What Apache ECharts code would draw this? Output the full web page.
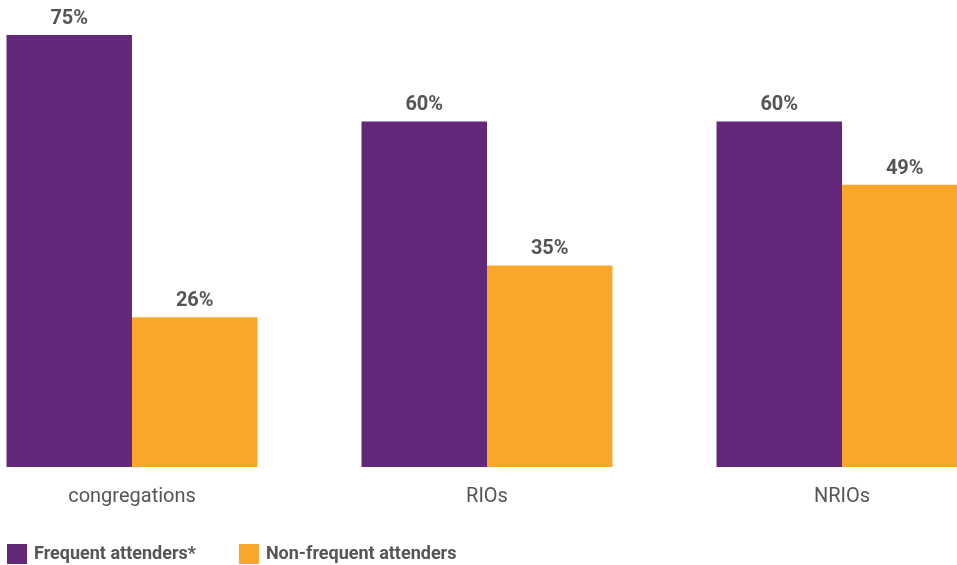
<!DOCTYPE html>
<html>
<head>
<meta charset="utf-8">
<script src="https://cdn.jsdelivr.net/npm/echarts@6/dist/echarts.min.js"></script>
<style>html,body{margin:0;padding:0;background:#fff}#c{width:957px;height:565px}</style>
</head>
<body>
<div id="c"></div>
<script>
const categories = ['congregations', 'RIOs', 'NRIOs'];
const frequent = [75, 60, 60];
const nonFrequent = [26, 35, 49];
const seriesNames = ['Frequent attenders*', 'Non-frequent attenders'];

const chart = echarts.init(document.getElementById('c'), null, {renderer: 'canvas'});
const labelStyle = {
  show: true, position: 'top', formatter: '{c}%', color: '#555555',
  fontFamily: 'Roboto', fontWeight: 'bold', fontSize: 20, distance: 6
};
chart.setOption({
  animation: false,
  grid: {left: -45.5, width: 1065, top: 35, bottom: 98, containLabel: false, outerBoundsMode: 'none'},
  legend: {
    left: 7, top: 544, itemWidth: 20, itemHeight: 20, itemGap: 43, icon: 'rect', padding: 0,
    textStyle: {color: '#555555', fontFamily: 'Roboto', fontWeight: 'bold', fontSize: 18, padding: [0, 0, 0, 2]},
    data: seriesNames
  },
  xAxis: {
    type: 'category', data: categories,
    axisLine: {show: false}, axisTick: {show: false},
    axisLabel: {color: '#555555', fontFamily: 'Roboto', fontSize: 20, margin: 20}
  },
  yAxis: {type: 'value', min: 0, max: 75, show: false, splitLine: {show: false}},
  series: [
    {name: seriesNames[0], type: 'bar', data: frequent, barGap: '0%', barCategoryGap: '29.3%',
     itemStyle: {color: '#63287A'}, label: labelStyle},
    {name: seriesNames[1], type: 'bar', data: nonFrequent,
     itemStyle: {color: '#F9A72B'}, label: labelStyle}
  ]
});
</script>
</body>
</html>
